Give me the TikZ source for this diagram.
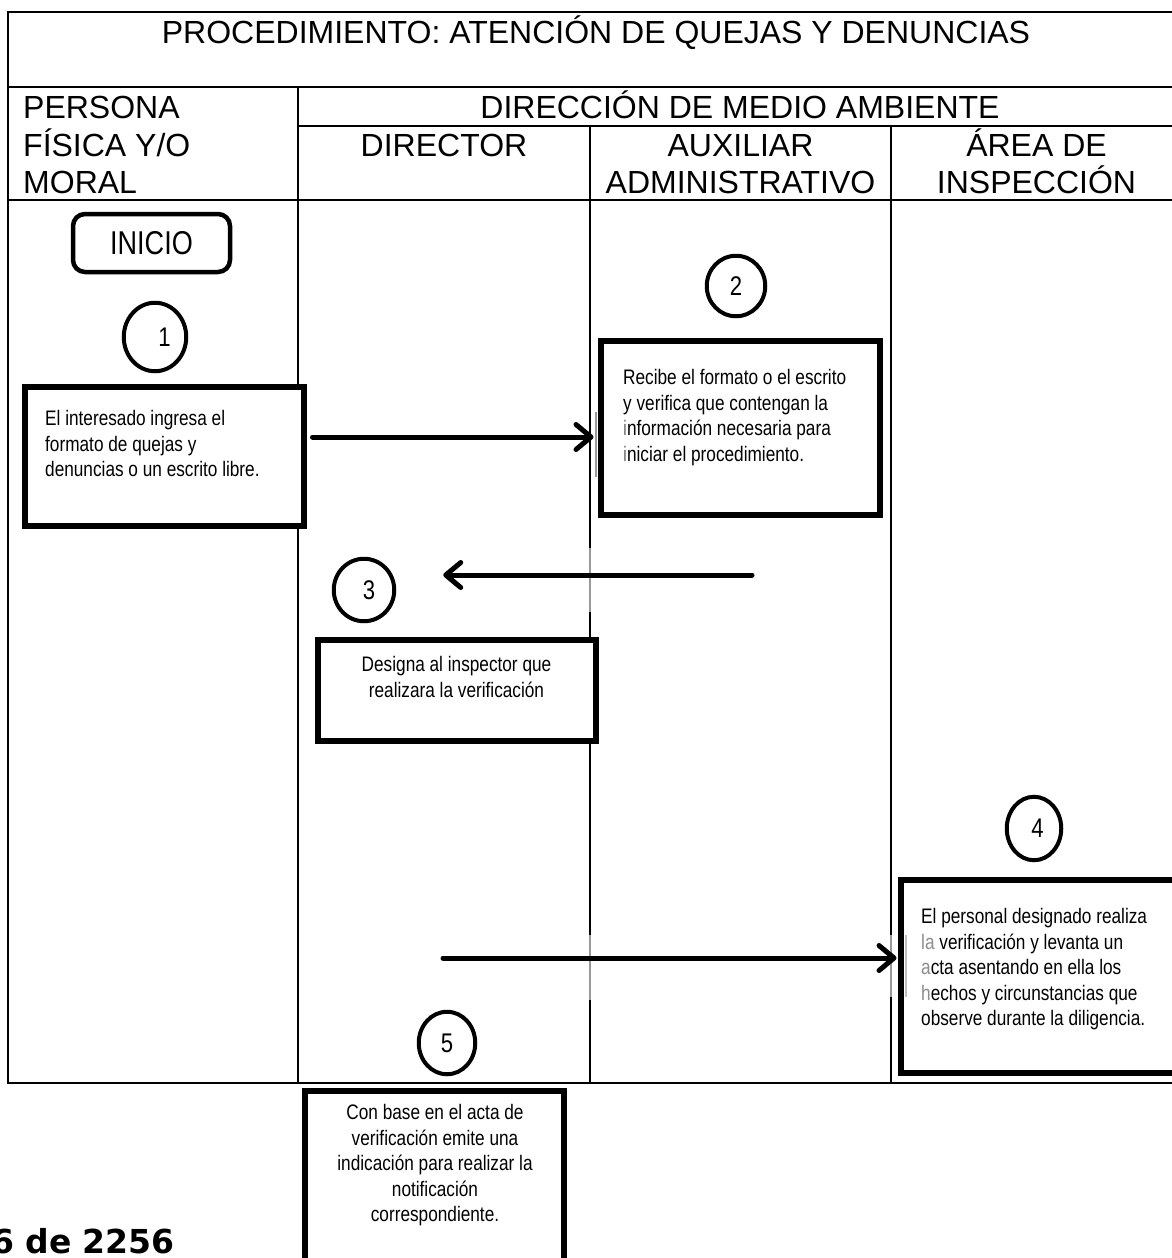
\documentclass[tikz,border=0pt]{standalone}
\usepackage{fontspec}
\setmainfont{Liberation Sans}
\newfontfamily\narrowfont[FakeStretch=0.82]{Liberation Sans}
\newfontfamily\pagefont{DejaVu Sans}
\usetikzlibrary{arrows.meta,shapes.geometric,calc}

\begin{document}
\begin{tikzpicture}[x=1pt,y=-1pt,
  grid/.style={line width=2.3pt},
  hdr/.style={font=\fontsize{32}{37.5}\selectfont, inner sep=0pt},
  stepbox/.style={draw, fill=white, line width=6pt, inner sep=0pt},
  btext/.style={font=\narrowfont\fontsize{21}{25.5}\selectfont, inner sep=0pt},
  num/.style={draw, fill=white, ellipse, line width=4pt, inner sep=0pt,
              font=\narrowfont\fontsize{27}{27}\selectfont},
  startbox/.style={draw, fill=white, rounded corners=12pt, line width=4.5pt, inner sep=0pt,
                   font=\narrowfont\fontsize{33}{33}\selectfont},
  flow/.style={line width=5pt, line cap=round,
               -{Straight Barb[length=15pt,width=25pt,round]}},
  fade/.style={line width=2.3pt, black!40},
  pagenum/.style={font=\pagefont\bfseries\fontsize{33}{33}\selectfont, inner sep=0pt}
]
\useasboundingbox (0,0) rectangle (1172,1258);
\clip (0,0) rectangle (1172,1258);

% swimlane table
\draw[grid] (8,12) rectangle (1182,1083);
\draw[grid] (8,87) -- (1182,87);
\draw[grid] (298,126) -- (1182,126);
\draw[grid] (8,200) -- (1182,200);
\draw[grid] (298,87) -- (298,1083);
\draw[grid] (590,126) -- (590,1083);
\draw[grid] (891,126) -- (891,1083);

% header texts
\node[hdr, anchor=base] (title) at (596,43) {PROCEDIMIENTO: ATENCIÓN DE QUEJAS Y DENUNCIAS};
\node[hdr, anchor=base west] (p1) at (23,118) {PERSONA};
\node[hdr, anchor=base west] (p2) at (23,156) {FÍSICA Y/O};
\node[hdr, anchor=base west] (p3) at (23,193) {MORAL};
\node[hdr, anchor=base] (dma) at (740,118) {DIRECCIÓN DE MEDIO AMBIENTE};
\node[hdr, anchor=base] (dir) at (444,156) {DIRECTOR};
\node[hdr, anchor=base] (aux1) at (740.5,156) {AUXILIAR};
\node[hdr, anchor=base] (aux2) at (740.5,193) {ADMINISTRATIVO};
\node[hdr, anchor=base] (ins1) at (1036.5,156) {ÁREA DE};
\node[hdr, anchor=base] (ins2) at (1036.5,193) {INSPECCIÓN};

% faded strips where connectors cross the lane lines
\draw[fade] (590,548) -- (590,612);
\draw[fade] (590,935) -- (590,1000);
\draw[fade] (891,935) -- (891,997);
\draw[fade] (596,412) -- (596,477);

% start terminal
\node[startbox, minimum width=157pt, minimum height=58pt] (inicio) at (151.5,243) {INICIO};

% step numbers
\node[num, minimum width=62.5pt, minimum height=68.5pt] (c1) at (155,337) {\hspace*{19pt}1};
\node[num, minimum width=58.5pt, minimum height=60.5pt] (c2) at (736,286) {2};
\node[num, minimum width=60.5pt, minimum height=62.5pt] (c3) at (364,590) {\hspace*{10pt}3};
\node[num, minimum width=54.5pt, minimum height=63.5pt] (c4) at (1034,828.5) {\hspace*{7pt}4};
\node[num, minimum width=56.5pt, minimum height=62.5pt] (c5) at (447,1043) {5};

% activity boxes
\node[stepbox, minimum width=279pt, minimum height=139pt] (b1) at (164,456) {};
\node[stepbox, minimum width=279pt, minimum height=174pt] (b2) at (740,427.5) {};
\node[stepbox, minimum width=278pt, minimum height=101pt] (b3) at (456.5,690) {};
\node[stepbox, minimum width=289.5pt, minimum height=193pt] (b4) at (1045.25,976) {};
\node[stepbox, minimum width=259pt, minimum height=179.5pt] (b5) at (434,1180.25) {};

\draw[fade, black!25] (906,935) -- (906,997);

% activity texts
\node[btext, anchor=north west, align=left] (t1) at (45,410.5)
  {El interesado ingresa el\\formato de quejas y\\denuncias o un escrito libre.};
\node[btext, anchor=north west, align=left] (t2) at (623,369.5)
  {Recibe el formato o el escrito\\y verifica que contengan la\\{\color{black!55}i}nformación necesaria para\\{\color{black!55}i}niciar el procedimiento.};
\node[btext, anchor=north, align=center] (t3) at (456.5,656.5)
  {Designa al inspector que\\realizara la verificación};
\node[btext, anchor=north west, align=left] (t4) at (921,908.5)
  {El personal designado realiza\\{\color{black!45}la} verificación y levanta un\\{\color{black!45}a}cta asentando en ella los\\{\color{black!45}h}echos y circunstancias que\\observe durante la diligencia.};
\node[btext, anchor=north, align=center] (t5) at (435,1104.5)
  {Con base en el acta de\\verificación emite una\\indicación para realizar la\\notificación\\correspondiente.};

% connectors
\coordinate (y1) at (0,437);
\draw[flow, shorten <=6pt, shorten >=4pt] (b1.east |- y1) -- (b2.west |- y1);
\coordinate (a2s) at (752,575);
\draw[flow] (a2s) -- ($(c3.east)+(47,-15)$);
\coordinate (a3s) at (443,958);
\draw[flow, shorten >=1pt] (a3s) -- (b4.west |- a3s);

% page counter
\node[pagenum, anchor=base east] (pg) at (175,1253) {6 de 2256};
\end{tikzpicture}
\end{document}
